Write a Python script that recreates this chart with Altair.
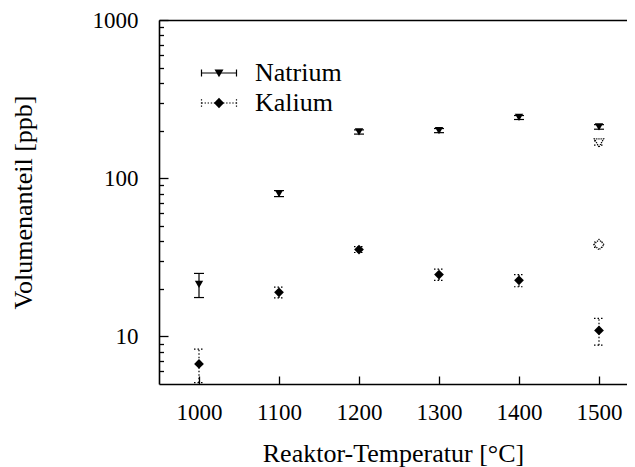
import altair as alt
import pandas as pd

# ---- data ----
temps = [1000, 1100, 1200, 1300, 1400, 1500]
na_val = [21.3, 80, 196, 200, 242, 211]
na_err = [3.7, 3.5, 6, 6, 7, 7]
k_val = [6.7, 19.0, 35.4, 24.6, 22.6, 10.9]
k_err = [1.6, 1.5, 1.5, 2.0, 2.0, 2.1]
na2_t = [1500]
na2_val = [167]
na2_err = [5]
k2_t = [1500]
k2_val = [38.0]
k2_err = [1.5]

y_major = [10, 100, 1000]
y_minor = [6, 7, 8, 9, 20, 30, 40, 50, 60, 70, 80, 90,
           200, 300, 400, 500, 600, 700, 800, 900]
series = ["Natrium", "Kalium"]


def frame(t, v, e):
    return pd.DataFrame({"T": t, "v": v,
                         "lo": [a - b for a, b in zip(v, e)],
                         "hi": [a + b for a, b in zip(v, e)]})


na = frame(temps, na_val, na_err)
k = frame(temps, k_val, k_err)
na2 = frame(na2_t, na2_val, na2_err)
k2 = frame(k2_t, k2_val, k2_err)

W, H = 468, 364
xs = alt.Scale(domain=[950, 1535], nice=False, zero=False)
ys = alt.Scale(type="log", domain=[5, 1000], nice=False)
FONT = "Liberation Serif"
DOT = [1.5, 2]


def X(f="T"):
    return alt.X(f"{f}:Q", scale=xs, axis=None)


def Y(f):
    return alt.Y(f"{f}:Q", scale=ys, axis=None)


def errlayers(df, dash):
    extra = {} if dash is None else {"strokeDash": dash}
    rule = alt.Chart(df).mark_rule(color="black", strokeWidth=1.2, clip=True, **extra).encode(
        x=X(), y=Y("lo"), y2="hi:Q")
    lo = alt.Chart(df).mark_point(shape="stroke", size=100, color="black", strokeWidth=1.2,
                                  opacity=1, clip=True, **extra).encode(x=X(), y=Y("lo"))
    hi = alt.Chart(df).mark_point(shape="stroke", size=100, color="black", strokeWidth=1.2,
                                  opacity=1, clip=True, **extra).encode(x=X(), y=Y("hi"))
    return [rule, lo, hi]


def markers(df, shape, size, filled):
    if filled:
        m = alt.Chart(df).mark_point(shape=shape, size=size, filled=True, color="black", opacity=1)
    else:
        m = alt.Chart(df).mark_point(shape=shape, size=size, fill="white", stroke="black",
                                     strokeWidth=1.3, strokeDash=[1.2, 1], opacity=1)
    return m.encode(x=X(), y=Y("v"))


layers = []
layers += errlayers(na, None)
layers += errlayers(k, DOT)
layers += errlayers(na2, DOT)
layers += errlayers(k2, DOT)
layers.append(markers(na, "triangle-down", 70, True))
layers.append(markers(k, "diamond", 95, True))
layers.append(markers(na2, "triangle-down", 85, False))
layers.append(markers(k2, "diamond", 105, False))

# ---- axes (main + border + inward ticks) ----
axis_main = alt.Chart(na).mark_point(opacity=0).encode(
    x=alt.X("T:Q", scale=xs, axis=alt.Axis(
        orient="bottom", values=temps, ticks=False, labelPadding=17, grid=False,
        title="Reaktor-Temperatur [°C]", titlePadding=16, format="d")),
    y=alt.Y("v:Q", scale=ys, axis=alt.Axis(
        orient="left", values=y_major, ticks=False, labelPadding=21, grid=False,
        title="Volumenanteil [ppb]", titlePadding=56, format="d")))

axis_border = alt.Chart(na).mark_point(opacity=0).encode(
    x=alt.X("T:Q", scale=xs, axis=alt.Axis(
        orient="top", ticks=False, labels=False, grid=False, title=None, domain=True)),
    y=alt.Y("v:Q", scale=ys, axis=alt.Axis(
        orient="right", offset=-W, values=y_major, tickSize=9, labels=False,
        domain=False, grid=False, title=None)))

axis_ticks = alt.Chart(na).mark_point(opacity=0).encode(
    x=alt.X("T:Q", scale=xs, axis=alt.Axis(
        orient="top", offset=-H, values=temps, tickSize=8, labels=False,
        domain=False, grid=False, title=None)),
    y=alt.Y("v:Q", scale=ys, axis=alt.Axis(
        orient="right", offset=-W, values=y_minor, tickSize=4.5, labels=False,
        domain=False, grid=False, title=None)))


# ---- legend: line part (with labels) + marker part (overlaid, no labels) ----
def seg(x0, y0, x1, y1):
    return f"M{x0:.3f},{y0:.3f}L{x1:.3f},{y1:.3f}"


solid_line = (seg(-1.25, 0, 1.25, 0) + seg(-1.25, -0.25, -1.25, 0.25)
              + seg(1.25, -0.25, 1.25, 0.25))
dotted_parts = []
xpos = -1.25
while xpos < 1.25:
    dotted_parts.append(seg(xpos, 0, min(xpos + 0.1, 1.25), 0))
    xpos += 0.22
for cx in (-1.25, 1.25):
    for y0 in (-0.27, -0.05, 0.17):
        dotted_parts.append(seg(cx, y0, cx, y0 + 0.1))
dotted_line = "".join(dotted_parts)

mark_na = "M-0.32,-0.25L0.32,-0.25L0,0.3Z"
mark_k = "M0,-0.38L0.36,0L0,0.38L-0.36,0Z"
leg_df = pd.DataFrame({"s": series, "m": series})

legend_lines = alt.Chart(leg_df).mark_point(
    filled=False, color="black", strokeWidth=1.2, size=784, opacity=1
).encode(
    shape=alt.Shape("s:N", scale=alt.Scale(domain=series, range=[solid_line, dotted_line]),
                    legend=alt.Legend(title=None)),
).transform_filter("false")

legend_marks = alt.Chart(leg_df).mark_point(
    filled=True, color="black", size=784, opacity=1
).encode(
    shape=alt.Shape("m:N", scale=alt.Scale(domain=series, range=[mark_na, mark_k]),
                    legend=alt.Legend(title=None, labelExpr="''")),
).transform_filter("false")

chart = alt.layer(axis_main, axis_border, axis_ticks, *layers, legend_lines, legend_marks).resolve_axis(
    x="independent", y="independent"
).resolve_scale(shape="independent").properties(
    width=W, height=H,
    padding={"left": 151, "top": 12, "right": 0, "bottom": 83},
    autosize=alt.AutoSizeParams(type="none"),
).configure_view(stroke=None).configure_axis(
    labelFont=FONT, labelFontSize=23, labelColor="black",
    titleFont=FONT, titleFontSize=26, titleFontWeight="normal", titleColor="black",
    domainColor="black", domainWidth=1.6, tickColor="black", tickWidth=1.3,
).configure_legend(
    orient="none", legendX=45, legendY=38, padding=0,
    labelFont=FONT, labelFontSize=26, labelColor="black", labelOffset=21,
    symbolSize=784, symbolStrokeWidth=1.2, rowPadding=2, labelLimit=0,
)

chart.save("out.html", embed_options={"renderer": "svg", "actions": False})
